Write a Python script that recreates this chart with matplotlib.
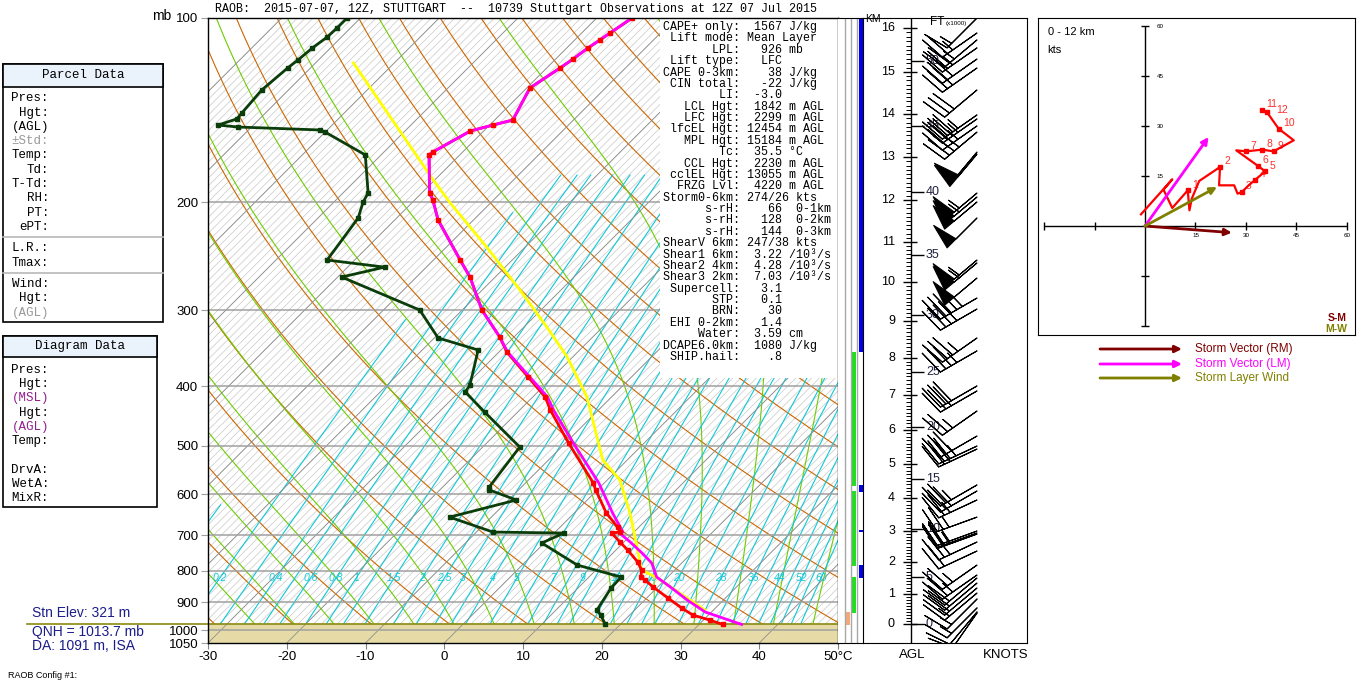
import numpy as np
import matplotlib
matplotlib.use("Agg")
import matplotlib.pyplot as plt
from matplotlib.patches import Rectangle
from matplotlib.lines import Line2D
import matplotlib.transforms as mtransforms

# ---------------- data ----------------
t_p = [100, 105.8, 108.6, 111.9, 116.7, 120.7, 130.1, 146.8, 149.6, 153.0, 165.6, 167.4,
       193.2, 198.3, 213.8, 248.6, 265.0, 300, 332.1, 351.4, 386.1, 416.3, 437.1, 494.9,
       575.0, 590.4, 644.2, 678.9, 691.7, 694.3, 718.2, 740.2, 774.4, 798.0, 819.3, 828.5,
       850.5, 886.5, 920.4, 945.0, 963.2, 979]
t_c = [-55.5, -56.4, -56.8, -57.3, -57.8, -58.3, -59.6, -57.7, -59.6, -61.7, -63.8, -63.9,
       -59.0, -57.7, -54.5, -46.6, -43.2, -37.5, -31.8, -29.0, -23.1, -18.4, -16.1, -9.6,
       -1.4, -0.2, 4.1, 7.3, 8.2, 7.3, 9.5, 11.5, 14.3, 15.8, 16.6, 17.5,
       19.4, 22.7, 25.7, 28.0, 30.8, 33.0]

tv_p = [100, 105.8, 108.6, 111.9, 116.7, 120.7, 130.1, 146.8, 149.6, 153.0, 165.6, 167.4,
        193.2, 198.3, 213.8, 248.6, 265.0, 300, 332.1, 351.4, 386.1, 416.3, 437.1, 494.9,
        575.0, 590.4, 644.2, 691.7, 694.3, 718.2, 748.6, 777.3, 819.3, 850.5, 893.3, 934.4,
        952.3, 979]
tv_c = [-55.5, -56.4, -56.8, -57.3, -57.8, -58.3, -59.6, -57.7, -59.6, -61.7, -63.8, -63.9,
        -59.0, -57.7, -54.5, -46.6, -43.2, -37.5, -31.8, -28.9, -22.9, -18.1, -15.7, -9.0,
        -0.7, 0.6, 4.9, 8.6, 8.3, 10.8, 13.7, 16.2, 18.6, 21.6, 25.4, 29.2,
        31.7, 35.4]

td_p = [100, 103.8, 107.4, 111.9, 117.1, 120.7, 131.1, 143.0, 146.2, 149.6, 150.7, 152.4,
        153.6, 167.4, 193.2, 199.8, 212.2, 248.6, 255.3, 265.0, 300, 333.3, 348.7, 397.8,
        408.4, 440.4, 502.3, 583.8, 590.4, 613.1, 653.9, 691.7, 694.3, 720.9, 783.2, 819.3,
        853.8, 927.3, 945, 979]
td_c = [-91.7, -91.7, -91.8, -92.3, -92.6, -92.9, -93.4, -93.0, -92.9, -94.5, -91.7, -80.9,
        -80.0, -72.0, -66.8, -66.3, -64.9, -63.5, -55.3, -59.5, -45.4, -39.5, -32.9, -29.5,
        -29.2, -24.2, -15.3, -14.1, -13.7, -9.0, -15.3, -7.9, 1.2, -0.3, 7.0, 14.1,
        14.2, 15.2, 16.3, 18.1]

parcel_p = [118.4, 183.9, 200.6, 236.7, 278.3, 319.8, 358.0, 416.3, 527.5, 568.6, 644.2,
            731.9, 798.0, 822.2, 927.3]
parcel_c = [-85.2, -60.2, -55.1, -44.9, -35.2, -27.1, -20.7, -13.1, -3.1, 1.6, 7.1,
            12.3, 15.8, 18.8, 28.9]

wind_p = [100, 105.8, 108.6, 111.9, 116.7, 120.7, 131.1, 144.0, 146.2, 150.1, 153.6, 165.6,
          166.9, 193.2, 196.1, 199.8, 212.2, 248.6, 251.3, 266.0, 286.8, 298.9, 333.3, 349.9,
          399.2, 406.8, 438.7, 482.0, 500.5, 506.2, 579.4, 592.7, 613.1, 653.9, 689.1, 694.3,
          696.9, 718.2, 742.9, 783.2, 813.1, 822.2, 838.0, 853.8, 870.1, 890.0, 920.4, 934.4, 938]
wind_dir = [225, 235, 230, 235, 235, 235, 230, 235, 235, 235, 230, 220,
            220, 230, 230, 230, 225, 230, 230, 230, 240, 240, 235, 240,
            240, 240, 235, 240, 245, 245, 240, 240, 245, 250, 250, 250,
            250, 245, 245, 235, 235, 230, 230, 230, 230, 225, 225, 220, 215]
wind_spd = [15, 25, 25, 25, 30, 30, 30, 35, 35, 35, 35, 50,
            50, 55, 55, 50, 50, 55, 55, 50, 45, 40, 35, 35,
            30, 30, 25, 30, 35, 30, 25, 30, 25, 25, 25, 25,
            20, 25, 20, 25, 25, 20, 20, 20, 15, 15, 15, 10, 10]

km_levels = list(range(17))
km_p = [977.7, 873.3, 774.4, 689.1, 608.5, 535.5, 471.3, 413.0, 359.3, 312.7, 270.1,
        232.3, 198.3, 168.7, 143.5, 122.5, 103.8]
ft_levels = [0, 5, 10, 15, 20, 25, 30, 35, 40, 45, 50]

hodo_u = [-1.2, 8.1, 5.5, 8.1, 11.4, 12.7, 13.2, 13.9, 16.1, 22.3, 22.0, 26.5, 27.5, 28.8,
          30.8, 32.8, 35.7, 33.6, 27.1, 30.1, 34.8, 38.2, 44.2, 39.7, 36.2, 34.8]
hodo_v = [3.5, 14.0, 10.9, 5.4, 9.2, 10.7, 4.7, 8.2, 13.5, 17.7, 12.2, 12.2, 9.7, 10.2,
          12.2, 13.9, 16.4, 18.0, 22.7, 22.4, 22.9, 22.4, 25.7, 29.2, 34.2, 34.9]
hodo_km_idx = [5, 9, 13, 15, 16, 17, 19, 20, 21, 23, 25, 24]
hodo_km_lbl = ["1", "2", "3", "4", "5", "6", "7", "8", "9", "10", "11", "12"]
storm_rm = (25.8, -2.0)
storm_lm = (18.9, 26.7)
layer_wind = (21.4, 11.7)

mix_label_vals = [0.2, 0.4, 0.6, 0.8, 1, 1.5, 2, 2.5, 3, 4, 5, 7, 9, 12, 16, 20, 28, 36, 44, 52, 60]
mix_line_vals = [0.1, 0.2, 0.3, 0.4, 0.5, 0.6, 0.8, 1, 1.2, 1.5, 2, 2.5, 3, 3.5, 4, 5, 6, 7, 8,
                 9, 10, 12, 14, 16, 18, 20, 24, 28, 32, 36, 40, 44, 48, 52, 56, 60]
pressure_ticks = [100, 200, 300, 400, 500, 600, 700, 800, 900, 1000, 1050]
temp_ticks = [-30, -20, -10, 0, 10, 20, 30, 40, 50]
temp_labels = ["-30", "-20", "-10", "0", "10", "20", "30", "40", "50°C"]
p_sfc = 979

green_layers = [(351.4, 582.0), (592.7, 786.0), (819.3, 938.0)]
blue_layers = [(100, 351.4), (579.4, 595.0), (687.0, 692.0), (783.2, 822.2)]
orange_layers = [(934.0, 981.0)]

stats_lines = [
    "CAPE+ only:  1567 J/kg",
    " Lift mode: Mean Layer",
    "       LPL:   926 mb",
    " Lift type:   LFC",
    "CAPE 0-3km:    38 J/kg",
    " CIN total:   -22 J/kg",
    "        LI:  -3.0",
    "   LCL Hgt:  1842 m AGL",
    "   LFC Hgt:  2299 m AGL",
    " lfcEL Hgt: 12454 m AGL",
    "   MPL Hgt: 15184 m AGL",
    "        Tc:  35.5 °C",
    "   CCL Hgt:  2230 m AGL",
    " cclEL Hgt: 13055 m AGL",
    "  FRZG Lvl:  4220 m AGL",
    "Storm0-6km: 274/26 kts",
    "      s-rH:    66  0-1km",
    "      s-rH:   128  0-2km",
    "      s-rH:   144  0-3km",
    "ShearV 6km: 247/38 kts",
    "Shear1 6km:  3.22 /10³/s",
    "Shear2 4km:  4.28 /10³/s",
    "Shear3 2km:  7.03 /10³/s",
    " Supercell:   3.1",
    "       STP:   0.1",
    "       BRN:    30",
    " EHI 0-2km:   1.4",
    "     Water:  3.59 cm",
    "DCAPE6.0km:  1080 J/kg",
    " SHIP.hail:    .8",
]

parcel_labels = ["Pres:", "Hgt:", "(AGL)", "±Std:", "Temp:", "Td:", "T-Td:", "RH:", "PT:",
                 "ePT:", "L.R.:", "Tmax:", "Wind:", "Hgt:", "(AGL)"]
diagram_labels = ["Pres:", "Hgt:", "(MSL)", "Hgt:", "(AGL)", "Temp:", "DrvA:", "WetA:", "MixR:"]

# ---------------- helpers ----------------
W, H = 1366, 686
K = 612.0 / 7.875  # skew (degC per decade of pressure)
MONO = "Liberation Mono"
SANS = "Liberation Sans"


def fx(px):
    return px / W


def fy(py):
    return 1 - py / H


def skew(T, p):
    return np.asarray(T, float) + K * np.log10(1050.0 / np.asarray(p, float))


def td_from_w(w, p):
    e = w * p / (622.0 + w)
    a = np.log(e / 6.112)
    return 243.5 * a / (17.67 - a)


def dTdp(T, p):
    es = 6.112 * np.exp(17.67 * (T - 273.15) / (T - 29.65))
    rs = 0.622 * es / (p - es)
    Rd, cp, Lv = 287.04, 1005.7, 2.501e6
    return (Rd * T + Lv * rs) / p / (cp + Lv * Lv * rs * 0.622 / (Rd * T * T))


def moist(thw):
    out_p, out_t = [], []
    for pend in (100.0, 1050.0):
        ps = np.linspace(1000.0, pend, 400)
        T = thw + 273.15
        ts = [T]
        for i in range(len(ps) - 1):
            dp = ps[i + 1] - ps[i]
            k1 = dTdp(T, ps[i])
            k2 = dTdp(T + k1 * dp, ps[i] + dp)
            T = T + 0.5 * (k1 + k2) * dp
            ts.append(T)
        out_p.append(ps)
        out_t.append(np.array(ts) - 273.15)
    p = np.concatenate([out_p[1][::-1], out_p[0][1:]])
    t = np.concatenate([out_t[1][::-1], out_t[0][1:]])
    return p, t


fig = plt.figure(figsize=(W / 100, H / 100), dpi=100)

# ---------------- main skew-T ----------------
ax = fig.add_axes([fx(208), fy(643), fx(838) - fx(208), fy(18) - fy(643)])
ax.set_yscale("log")
ax.set_ylim(1050, 100)
ax.set_xlim(-30, 50)
ax.minorticks_off()
ax.set_yticks(pressure_ticks)
ax.set_yticklabels([str(p) for p in pressure_ticks], fontsize=9.5, family=SANS)
ax.set_xticks(temp_ticks)
ax.set_xticklabels(temp_labels, fontsize=9.5, family=SANS)
ax.tick_params(axis="y", length=5, color="#a0a0a0", pad=2)
ax.tick_params(axis="x", length=4, color="#808080", pad=2)
for s in ax.spines.values():
    s.set_color("black")
    s.set_linewidth(1.0)
    s.set_zorder(10)

pp = np.geomspace(1050, 100, 200)
# fine isotherms (hatch look)
for T in range(-100, 51):
    ax.plot(skew(T, pp), pp, color="#c8c8c8", lw=0.5, zorder=1)
# dry adiabats
for th in range(-30, 210, 10):
    tt = (th + 273.15) * (pp / 1000.0) ** 0.2857 - 273.15
    ax.plot(skew(tt, pp), pp, color="#cc6600", lw=0.8, zorder=1.2)
# moist adiabats
for thw in range(-25, 50, 5):
    mp, mt = moist(thw)
    ax.plot(skew(mt, mp), mp, color="#6ccc00", lw=0.8, zorder=1.3)
# mixing ratio lines
for w in mix_line_vals:
    tdl = td_from_w(w, pp)
    m = (tdl >= -46) & (pp >= 180)
    ax.plot(skew(tdl[m], pp[m]), pp[m], color="#10c8d8", lw=0.8, zorder=1.4)
for w in mix_label_vals:
    ax.text(skew(td_from_w(w, 822), 822), 822, f"{w:g}", color="#10c8d8", fontsize=7.5,
            style="italic", ha="center", va="center", family=SANS, zorder=4)
# ground
ax.axhspan(p_sfc, 1050, color="#e6dba6", zorder=2)
# 10 degree isotherms
for T in range(-100, 51, 10):
    ax.plot(skew(T, pp), pp, color="#8e8e8e", lw=0.6, zorder=2.2)
# pressure lines
for p in pressure_ticks[1:-1]:
    ax.axhline(p, color="#a0a0a0", lw=1.1, zorder=2.5)
# surface line (extends left into margin)
blend = mtransforms.blended_transform_factory(fig.transFigure, ax.transData)
ax.plot([fx(27), fx(838)], [p_sfc, p_sfc], color="#8a8a10", lw=1.2, transform=blend,
        clip_on=False, zorder=6)
# white text area
ax.add_patch(Rectangle(((660 - 208) / 630, (643 - 378) / 625), 1, 1, transform=ax.transAxes,
                       facecolor="white", edgecolor="none", zorder=3))

# profiles
ax.plot(skew(parcel_c, parcel_p), parcel_p, color="#ffff00", lw=2, zorder=5)
ax.plot(skew(t_c, t_p), t_p, color="#ff0000", lw=2, zorder=6)
ax.plot(skew(tv_c, tv_p), tv_p, color="#ff00ff", lw=2, zorder=7)
ax.plot(skew(t_c, t_p), t_p, ls="none", marker="s", ms=2.5, color="#ff0000", zorder=8)
ax.plot(skew(td_c, td_p), td_p, color="#0b3d0b", lw=2, marker="s", ms=2.5, zorder=8)

# stats text
for i, line in enumerate(stats_lines):
    fig.text(fx(663), fy(27 + i * 11.38), line, fontsize=8.4, family=MONO, ha="left",
             va="center", color="black")

# title
fig.text(fx(215), fy(9), "RAOB:  2015-07-07, 12Z, STUTTGART  --  10739 Stuttgart Observations at 12Z 07 Jul 2015",
         fontsize=8.4, family=MONO, ha="left", va="center")
fig.text(fx(152), fy(16), "mb", fontsize=10, family=SANS, ha="left", va="center")

# ---------------- side strip ----------------
sx = fig.add_axes([fx(838), fy(643), fx(863) - fx(838), fy(18) - fy(643)])
sx.set_yscale("log")
sx.set_ylim(1050, 100)
sx.set_xlim(838, 863)
sx.set_xticks([])
sx.set_yticks([])
sx.minorticks_off()
for k in ("left", "right"):
    sx.spines[k].set_visible(False)
for xv in (845, 851, 857):
    sx.axvline(xv, color="#a8a8a8", lw=1)
for a, b in green_layers:
    sx.fill_betweenx([a, b], 852, 856.5, color="#22dd22", lw=0)
for a, b in blue_layers:
    sx.fill_betweenx([a, b], 859, 863, color="#0000ee", lw=0)
for a, b in orange_layers:
    sx.fill_betweenx([a, b], 846, 850, color="#f4a878", lw=0)

# ---------------- height / wind panel ----------------
hx = fig.add_axes([fx(863), fy(643), fx(1027) - fx(863), fy(18) - fy(643)])
hx.set_yscale("log")
hx.set_ylim(1050, 100)
hx.set_xlim(0, 164)
hx.set_xticks([])
hx.set_yticks([])
hx.minorticks_off()
hx.axvline(48, color="black", lw=1)
logkm = np.log10(km_p)
km_minor = np.arange(0, 16.25, 0.1)
hx.hlines(10 ** np.interp(km_minor, km_levels, logkm), 43, 48, color="black", lw=0.7)
hx.hlines(km_p, 40, 54, color="black", lw=1)
for k, p in zip(km_levels, km_p):
    hx.text(32, p, str(k), fontsize=9, family=SANS, ha="right", va="center")
ft_p = 10 ** np.interp(np.array(ft_levels) * 0.3048, km_levels, logkm)
hx.hlines(ft_p, 48, 61, color="black", lw=1)
for f, p in zip(ft_levels, ft_p):
    hx.text(63, p, str(f), fontsize=9, family=SANS, ha="left", va="center", color="#202040")
fig.text(fx(865), fy(19), "KM", fontsize=7.5, family=SANS, ha="left", va="center")
fig.text(fx(930), fy(22), "FT", fontsize=8.5, family=SANS, ha="left", va="center")
fig.text(fx(946), fy(24), "(x1000)", fontsize=4.5, family=SANS, ha="left", va="center")
wd = np.radians(wind_dir)
wu = -np.array(wind_spd) * np.sin(wd)
wv = -np.array(wind_spd) * np.cos(wd)
hx.barbs(np.full(len(wind_p), 114.0), wind_p, wu, wv, length=7.8, linewidth=0.8,
         color="black", zorder=5, sizes=dict(spacing=0.15, height=0.6, width=0.3))

fig.text(fx(912), fy(655), "AGL", fontsize=9.5, family=SANS, ha="center", va="center")
fig.text(fx(1006), fy(655), "KNOTS", fontsize=9.5, family=SANS, ha="center", va="center")

# ---------------- hodograph ----------------
ho = fig.add_axes([fx(1038), fy(335), fx(1355) - fx(1038), fy(18) - fy(335)])
ho.set_xlim(-31.8, 62.4)
ho.set_ylim(-32.7, 62.4)
ho.set_xticks([])
ho.set_yticks([])
ho.hlines(0, -30, 60, color="black", lw=1)
ho.vlines(0, -30, 60, color="black", lw=1)
for t in (-30, -15, 15, 30, 45, 60):
    ho.vlines(t, -1.2, 1.2, color="black", lw=1)
    ho.hlines(t, -1.2, 1.2, color="black", lw=1)
for t in (15, 30, 45, 60):
    ho.text(t, -2.2, str(t), fontsize=4.5, family=SANS, ha="center", va="top")
    ho.text(3.5, t, str(t), fontsize=4.5, family=SANS, ha="left", va="center")
ho.plot(hodo_u, hodo_v, color="#ff0000", lw=1.6, zorder=4)
ho.plot([hodo_u[i] for i in hodo_km_idx], [hodo_v[i] for i in hodo_km_idx], ls="none",
        marker="s", ms=3, color="#ff0000", zorder=5)
for i, lab in zip(hodo_km_idx, hodo_km_lbl):
    off = (7, -1) if lab == "12" else (3, 2)
    ho.annotate(lab, (hodo_u[i], hodo_v[i]), xytext=off, textcoords="offset points",
                fontsize=7.5, color="#ff3030", family=SANS)
for vec, col in ((storm_rm, "#800000"), (storm_lm, "#ff00ff"), (layer_wind, "#808000")):
    ho.annotate("", xy=vec, xytext=(0, 0),
                arrowprops=dict(arrowstyle="-|>", color=col, lw=2, mutation_scale=10,
                                shrinkA=0, shrinkB=0), zorder=6)
ho.text(0.03, 0.955, "0 - 12 km", transform=ho.transAxes, fontsize=8, family=SANS, va="center")
ho.text(0.03, 0.9, "kts", transform=ho.transAxes, fontsize=8, family=SANS, va="center")
ho.text(0.975, 0.055, "S-M", transform=ho.transAxes, fontsize=7.5, family=SANS,
        weight="bold", color="#800000", ha="right", va="center")
ho.text(0.975, 0.018, "M-W", transform=ho.transAxes, fontsize=7.5, family=SANS,
        weight="bold", color="#808000", ha="right", va="center")

# hodograph legend
lg = fig.add_axes([fx(1090), fy(390), fx(1360) - fx(1090), fy(340) - fy(390)])
lg.set_xlim(1090, 1360)
lg.set_ylim(390, 340)
lg.axis("off")
for yy, col, txt in ((349, "#800000", "Storm Vector (RM)"), (364, "#ff00ff", "Storm Vector (LM)"),
                     (378, "#808000", "Storm Layer Wind")):
    lg.annotate("", xy=(1182, yy), xytext=(1100, yy),
                arrowprops=dict(arrowstyle="-|>", color=col, lw=2, mutation_scale=10,
                                shrinkA=0, shrinkB=0))
    lg.text(1195, yy, txt, color=col, fontsize=8.5, family=SANS, va="center", ha="left")

# ---------------- left info boxes ----------------
def box(x0, y0, x1, y1, yh, title):
    fig.add_artist(Rectangle((fx(x0), fy(y1)), fx(x1) - fx(x0), fy(y0) - fy(y1),
                             transform=fig.transFigure, facecolor="white", edgecolor="black", lw=1.2))
    fig.add_artist(Rectangle((fx(x0), fy(yh)), fx(x1) - fx(x0), fy(y0) - fy(yh),
                             transform=fig.transFigure, facecolor="#eaf2fb", edgecolor="black", lw=1.2))
    fig.text(fx((x0 + x1) / 2), fy((y0 + yh) / 2), title, fontsize=9, family=MONO,
             ha="center", va="center")


box(3, 64, 163, 322, 87, "Parcel Data")
parcel_y = [98, 113, 127, 141, 155, 170, 184, 198, 213, 227, 248, 263, 284, 298, 313]
parcel_col = ["k", "k", "k", "#999999", "k", "k", "k", "k", "k", "k", "k", "k", "k", "k", "#999999"]
for lab, yy, c in zip(parcel_labels, parcel_y, parcel_col):
    fig.text(fx(49), fy(yy), lab, fontsize=9, family=MONO, ha="right", va="center", color=c)
for yy in (237, 273):
    fig.add_artist(Line2D([fx(3), fx(163)], [fy(yy), fy(yy)], color="#b8b8b8", lw=1.2))

box(3, 336, 157, 507, 357, "Diagram Data")
diag_y = [370, 384, 398, 413, 427, 441, 470, 484, 498]
diag_col = ["k", "k", "#902090", "k", "#902090", "k", "k", "k", "k"]
for lab, yy, c in zip(diagram_labels, diag_y, diag_col):
    fig.text(fx(49), fy(yy), lab, fontsize=9, family=MONO, ha="right", va="center", color=c)

fig.text(fx(32), fy(613), "Stn Elev: 321 m", fontsize=10, family=SANS, color="#1c1c8c", va="center")
fig.text(fx(32), fy(632), "QNH = 1013.7 mb", fontsize=10, family=SANS, color="#1c1c8c", va="center")
fig.text(fx(32), fy(646), "DA: 1091 m, ISA", fontsize=10, family=SANS, color="#1c1c8c", va="center")
fig.text(fx(8), fy(676), "RAOB Config #1:", fontsize=6.5, family=SANS, color="black", va="center")

fig.savefig("out.png", dpi=100, facecolor="white")
